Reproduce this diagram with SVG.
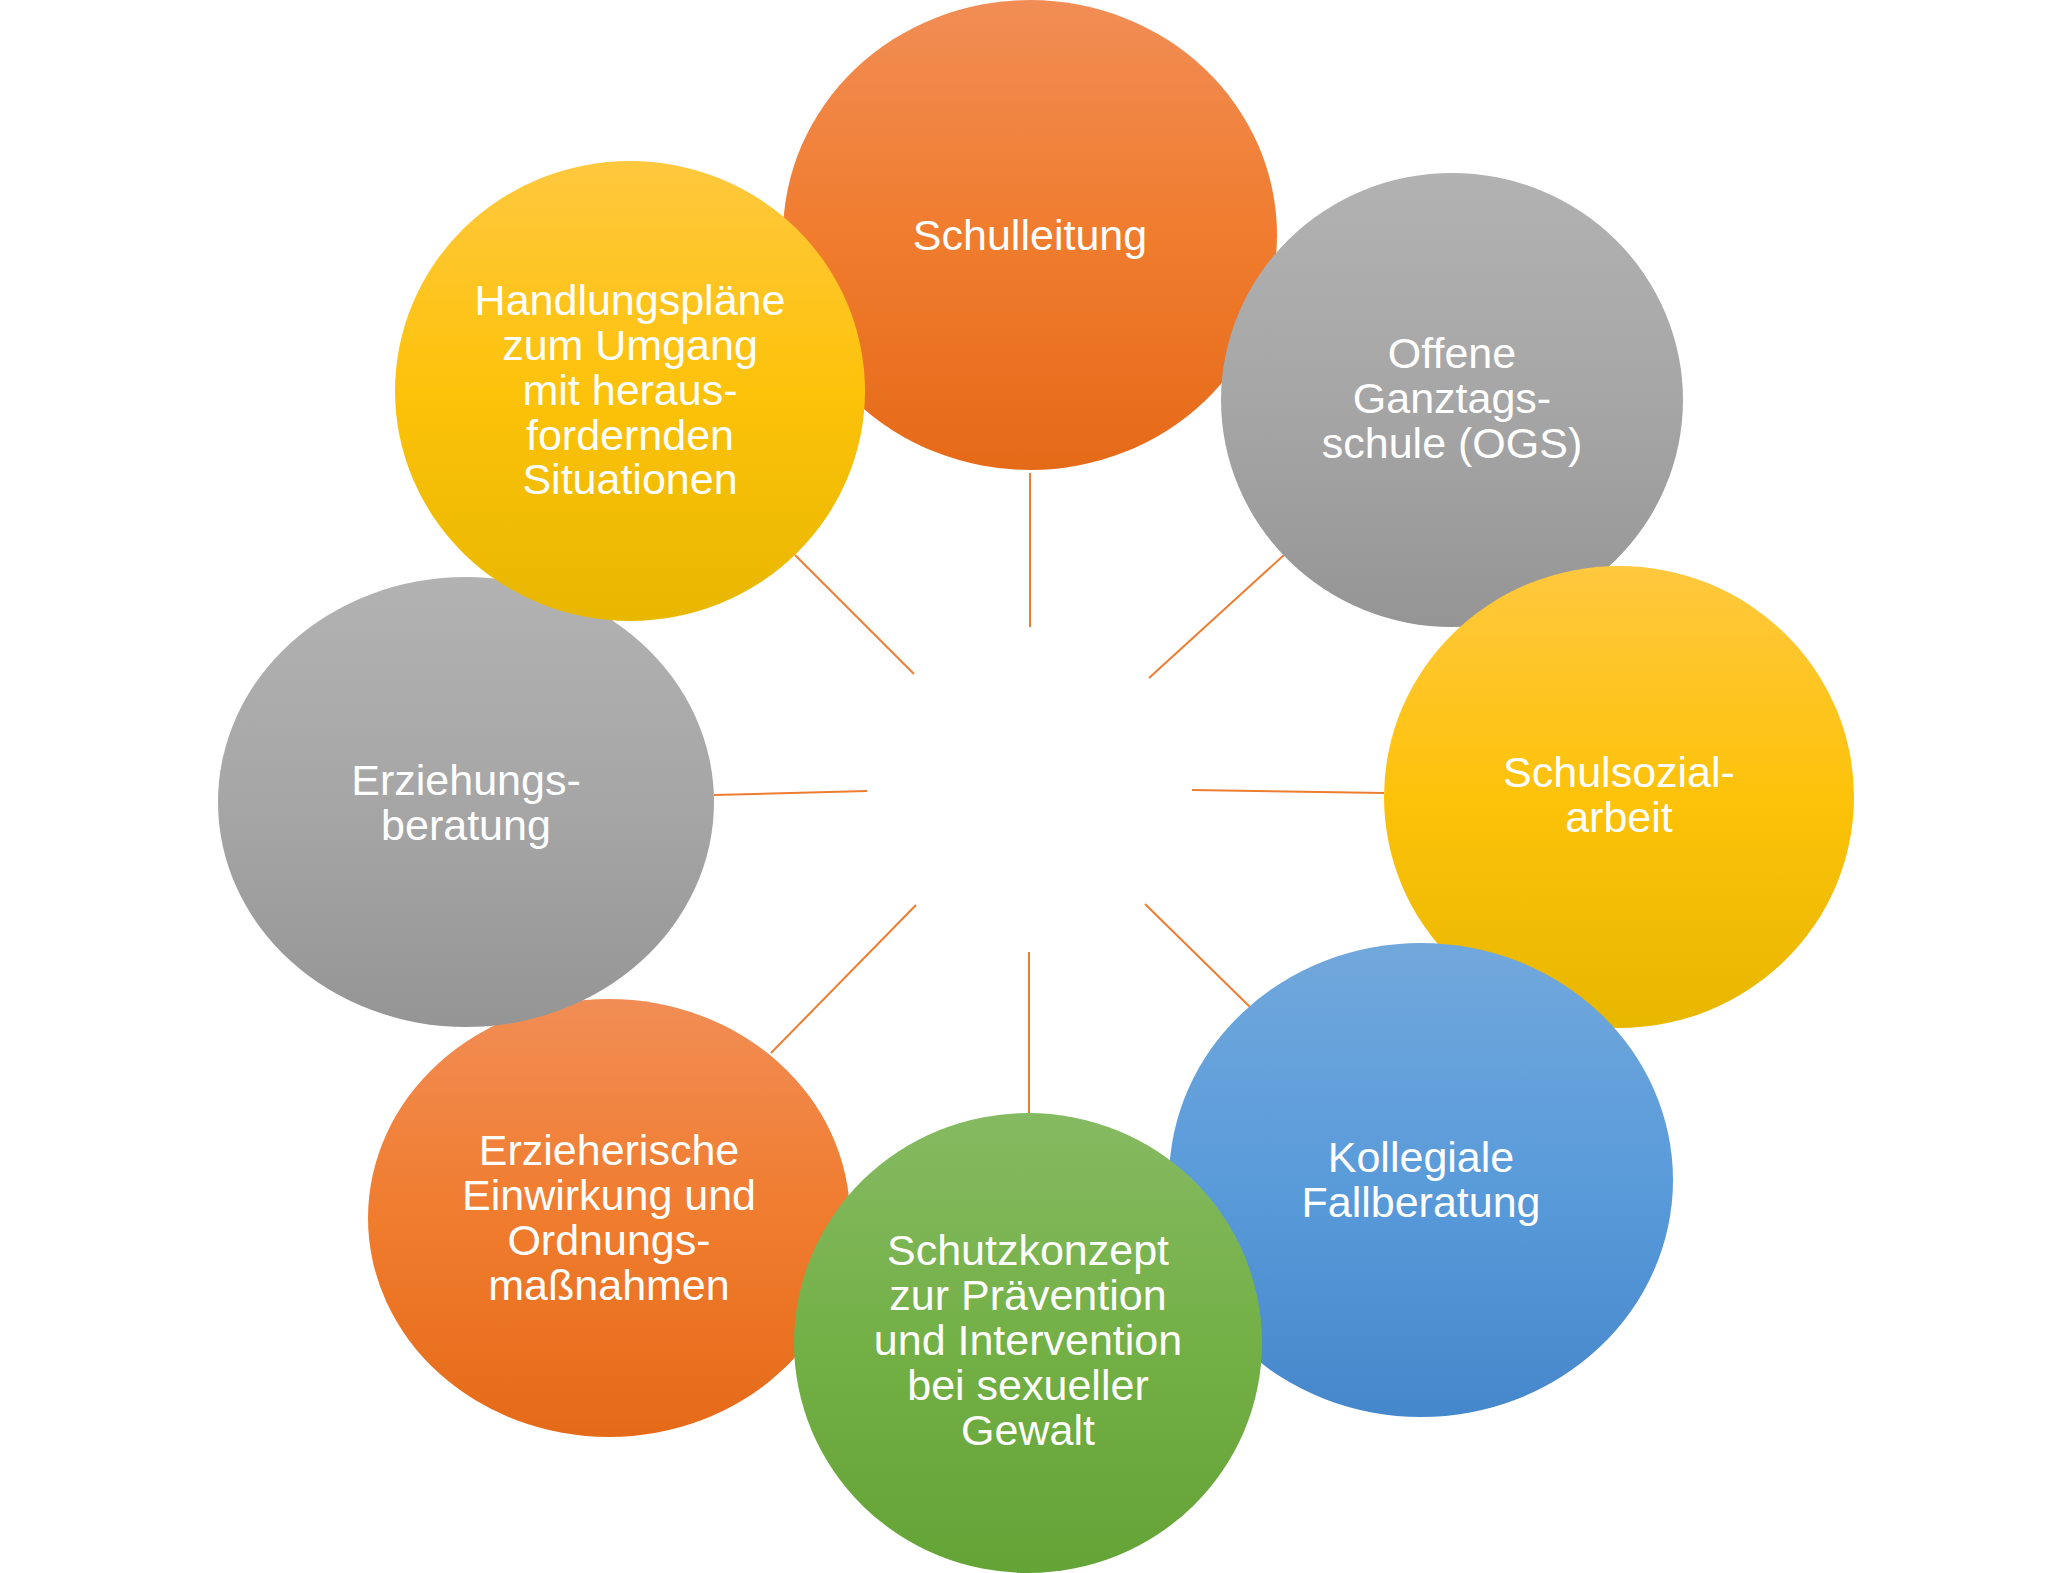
<svg xmlns="http://www.w3.org/2000/svg" width="2048" height="1573" viewBox="0 0 2048 1573">
<defs>
<linearGradient id="gOrange" x1="0" y1="0" x2="0" y2="1"><stop offset="0" stop-color="#F18D55"/><stop offset="0.5" stop-color="#F07C2E"/><stop offset="1" stop-color="#E56A18"/></linearGradient>
<linearGradient id="gGray" x1="0" y1="0" x2="0" y2="1"><stop offset="0" stop-color="#B2B2B2"/><stop offset="0.5" stop-color="#A6A6A6"/><stop offset="1" stop-color="#959595"/></linearGradient>
<linearGradient id="gYellow" x1="0" y1="0" x2="0" y2="1"><stop offset="0" stop-color="#FFC83E"/><stop offset="0.5" stop-color="#FDC20A"/><stop offset="1" stop-color="#E8B700"/></linearGradient>
<linearGradient id="gBlue" x1="0" y1="0" x2="0" y2="1"><stop offset="0" stop-color="#71A8DC"/><stop offset="0.5" stop-color="#5A9BDA"/><stop offset="1" stop-color="#4587CB"/></linearGradient>
<linearGradient id="gGreen" x1="0" y1="0" x2="0" y2="1"><stop offset="0" stop-color="#86BA62"/><stop offset="0.5" stop-color="#73B046"/><stop offset="1" stop-color="#64A336"/></linearGradient>
</defs>
<style>
.lbl{font-family:"Liberation Sans",Arial,sans-serif;font-size:43px;fill:#FFFFFF;text-anchor:middle}
.spoke{stroke:#ED7D31;stroke-width:2;fill:none}
</style>
<rect width="2048" height="1573" fill="#FFFFFF"/>
<g id="connectors">
<line class="spoke" x1="1030" y1="473" x2="1030" y2="627"/>
<line class="spoke" x1="1284" y1="555" x2="1149" y2="678"/>
<line class="spoke" x1="1384" y1="793" x2="1192" y2="790"/>
<line class="spoke" x1="1250" y1="1007" x2="1145" y2="904"/>
<line class="spoke" x1="1029" y1="1113" x2="1029" y2="952"/>
<line class="spoke" x1="771" y1="1053" x2="916" y2="905"/>
<line class="spoke" x1="714" y1="795" x2="867" y2="791"/>
<line class="spoke" x1="795" y1="555" x2="914" y2="674"/>
</g>
<g id="n-schulleitung">
<ellipse cx="1030" cy="235" rx="247" ry="235" fill="url(#gOrange)"/>
<text class="lbl" x="1030" y="250">Schulleitung</text>
</g>
<g id="n-ogs">
<ellipse cx="1452" cy="400" rx="231" ry="227" fill="url(#gGray)"/>
<text class="lbl" x="1452" y="368">Offene</text>
<text class="lbl" x="1452" y="413">Ganztags-</text>
<text class="lbl" x="1452" y="458">schule (OGS)</text>
</g>
<g id="n-schulsozialarbeit">
<ellipse cx="1619" cy="797" rx="235" ry="231" fill="url(#gYellow)"/>
<text class="lbl" x="1619" y="787">Schulsozial-</text>
<text class="lbl" x="1619" y="832">arbeit</text>
</g>
<g id="n-fallberatung">
<ellipse cx="1421" cy="1180" rx="252" ry="237" fill="url(#gBlue)"/>
<text class="lbl" x="1421" y="1172">Kollegiale</text>
<text class="lbl" x="1421" y="1217">Fallberatung</text>
</g>
<g id="n-erzieherische">
<ellipse cx="609" cy="1218" rx="241" ry="219" fill="url(#gOrange)"/>
<text class="lbl" x="609" y="1165">Erzieherische</text>
<text class="lbl" x="609" y="1210">Einwirkung und</text>
<text class="lbl" x="609" y="1255">Ordnungs-</text>
<text class="lbl" x="609" y="1300">maßnahmen</text>
</g>
<g id="n-schutzkonzept">
<ellipse cx="1028" cy="1343" rx="234" ry="230" fill="url(#gGreen)"/>
<text class="lbl" x="1028" y="1265">Schutzkonzept</text>
<text class="lbl" x="1028" y="1310">zur Prävention</text>
<text class="lbl" x="1028" y="1355">und Intervention</text>
<text class="lbl" x="1028" y="1400">bei sexueller</text>
<text class="lbl" x="1028" y="1445">Gewalt</text>
</g>
<g id="n-erziehungsberatung">
<ellipse cx="466" cy="802" rx="248" ry="225" fill="url(#gGray)"/>
<text class="lbl" x="466" y="795">Erziehungs-</text>
<text class="lbl" x="466" y="840">beratung</text>
</g>
<g id="n-handlungsplaene">
<ellipse cx="630" cy="391" rx="235" ry="230" fill="url(#gYellow)"/>
<text class="lbl" x="630" y="315">Handlungspläne</text>
<text class="lbl" x="630" y="360">zum Umgang</text>
<text class="lbl" x="630" y="405">mit heraus-</text>
<text class="lbl" x="630" y="450">fordernden</text>
<text class="lbl" x="630" y="494">Situationen</text>
</g>
</svg>
